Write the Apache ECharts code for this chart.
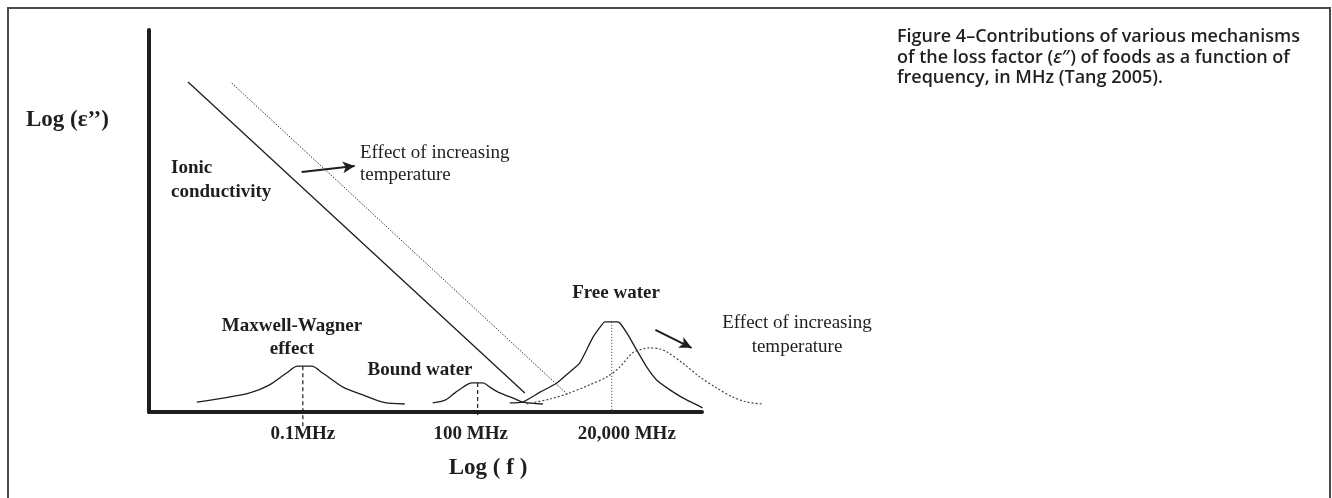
<!DOCTYPE html>
<html>
<head>
<meta charset="utf-8">
<script src="https://cdn.jsdelivr.net/npm/echarts@6/dist/echarts.min.js"></script>
<style>
  html, body { margin: 0; padding: 0; background: #fff; }
  #chart { width: 1332px; height: 498px; }
</style>
</head>
<body>
<div id="chart"></div>
<script>
// x = log10(f / MHz), y = log(e'') in arbitrary units (schematic figure)
var peakX = [-1, 2, 4.301];            // 0.1 MHz, 100 MHz, 20,000 MHz
var tickLabels = ['0.1MHz', '100 MHz', '20,000 MHz'];
var peakTop = [1.20, 0.76, 2.36];
var dropEnd = [-0.39, -0.16, -0.08];

var ionicCold = [[-2.97, 8.64], [2.81, 0.50]];
var ionicHot = [[-2.22, 8.61], [3.55, 0.45]];

var maxwellWagner = [[-2.82, 0.26], [-2.34, 0.37], [-1.91, 0.50], [-1.57, 0.71], [-1.28, 1.02],
  [-1.09, 1.20], [-0.85, 1.20], [-0.66, 1.02], [-0.31, 0.65], [0.03, 0.45], [0.37, 0.26], [0.75, 0.21]];

var boundWater = [[1.23, 0.24], [1.44, 0.31], [1.61, 0.50], [1.81, 0.71], [1.90, 0.76], [2.09, 0.76],
  [2.21, 0.65], [2.38, 0.50], [2.60, 0.37], [2.77, 0.26], [3.12, 0.21]];

var freeWater = [[2.55, 0.24], [2.77, 0.26], [3.07, 0.52], [3.36, 0.76], [3.58, 1.05], [3.75, 1.28],
  [3.98, 1.96], [4.13, 2.28], [4.18, 2.36], [4.39, 2.36], [4.44, 2.33], [4.58, 2.02], [4.73, 1.62],
  [4.90, 1.18], [5.07, 0.84], [5.30, 0.58], [5.52, 0.37], [5.69, 0.24], [5.86, 0.11]];

var freeWaterHot = [[2.84, 0.21], [3.24, 0.34], [3.58, 0.50], [3.92, 0.71], [4.22, 0.92], [4.44, 1.18],
  [4.66, 1.55], [4.83, 1.65], [4.95, 1.68], [5.13, 1.65], [5.25, 1.57], [5.52, 1.28], [5.81, 0.92],
  [6.10, 0.63], [6.38, 0.39], [6.62, 0.26], [6.89, 0.21]];

var arrowIonic = [[-1.02, 6.28], [-0.11, 6.44]];
var arrowWater = [[5.05, 2.15], [5.67, 1.68]];

var chart = echarts.init(document.getElementById('chart'));

var serif = '"Liberation Serif", "Times New Roman", serif';
var ink = '#1e1e1e';

// grid 0 carries the drawn axes, grid 1 the curves (same scale, wider so
// the warm free-water curve can run past the end of the axis)
var X_MIN = -3.64, X_AXIS_END = 5.85, X_PLOT_END = 7.2;
var pxPerUnit = 553 / (X_AXIS_END - X_MIN);

function curve(name, data, opt) {
  return Object.assign({
    name: name,
    type: 'line',
    xAxisIndex: 1,
    yAxisIndex: 1,
    data: data,
    symbol: 'none',
    clip: false,
    silent: true,
    lineStyle: { color: ink, width: 1.3 }
  }, opt || {});
}

var series = [
  curve('ionic', ionicCold),
  curve('ionicHot', ionicHot, { lineStyle: { color: '#333', width: 1, type: [1.5, 1.5] } }),
  curve('mw', maxwellWagner, { smooth: 0.3 }),
  curve('bound', boundWater, { smooth: 0.3 }),
  curve('free', freeWater, { smooth: 0.2 }),
  curve('freeHot', freeWaterHot, { smooth: 0.3, lineStyle: { color: '#444', width: 1.2, type: [2, 2] } })
];

// vertical markers from each peak down through the axis
peakX.forEach(function (x, i) {
  series.push(curve('drop' + i, [[x, peakTop[i]], [x, dropEnd[i]]], {
    lineStyle: i < 2 ? { color: ink, width: 1.2, type: [4, 3] } : { color: '#333', width: 1, type: [1, 2] }
  }));
});

// temperature arrows
series.push({
  type: 'line', data: [], silent: true, xAxisIndex: 1, yAxisIndex: 1,
  markLine: {
    silent: true,
    symbol: ['none', 'arrow'],
    symbolSize: [9, 12],
    label: { show: false },
    lineStyle: { color: ink, width: 2, type: 'solid' },
    data: [
      [{ coord: arrowIonic[0] }, { coord: arrowIonic[1] }],
      [{ coord: arrowWater[0] }, { coord: arrowWater[1] }]
    ]
  }
});

function label(text, x, y, size, weight, align, lh) {
  return {
    type: 'text', silent: true,
    style: {
      text: text, x: x, y: y,
      font: (weight || 'normal') + ' ' + size + 'px ' + serif,
      fill: ink, align: align || 'left', verticalAlign: 'middle',
      lineHeight: lh || size
    }
  };
}

var tickRich = { fontFamily: serif, fontWeight: 'bold', fontSize: 19, color: ink };

chart.setOption({
  animation: false,
  backgroundColor: '#fff',
  grid: [
    { left: 149, top: 30, width: 553, height: 382, outerBoundsMode: 'none' },
    { left: 149, top: 30, width: pxPerUnit * (X_PLOT_END - X_MIN), height: 382, outerBoundsMode: 'none' }
  ],
  xAxis: [{
    type: 'value', min: X_MIN, max: X_AXIS_END,
    splitLine: { show: false },
    axisTick: { show: false },
    axisLine: { lineStyle: { color: ink, width: 4 } },
    axisLabel: {
      customValues: peakX,
      margin: 13,
      formatter: function (v) {
        var i = peakX.indexOf(v);
        return '{t' + i + '|' + tickLabels[i] + '}';
      },
      rich: {
        t0: tickRich,
        t1: Object.assign({ padding: [0, 14, 0, 0] }, tickRich),
        t2: Object.assign({ padding: [0, 0, 0, 30] }, tickRich)
      }
    }
  }, {
    type: 'value', gridIndex: 1, min: X_MIN, max: X_PLOT_END, show: false
  }],
  yAxis: [{
    type: 'value', min: 0, max: 10,
    splitLine: { show: false },
    axisTick: { show: false },
    axisLabel: { show: false },
    axisLine: { onZero: false, lineStyle: { color: ink, width: 4 } }
  }, {
    type: 'value', gridIndex: 1, min: 0, max: 10, show: false
  }],
  series: series,
  graphic: [
    { type: 'rect', silent: true, shape: { x: 8, y: 8, width: 1322, height: 520 },
      style: { fill: 'none', stroke: '#4a4a4a', lineWidth: 2 } },
    label('Log (ε’’)', 26, 120, 23, 'bold'),
    label('Ionic\nconductivity', 171, 180, 19, 'bold', 'left', 24),
    label('Effect of increasing\ntemperature', 360, 164, 19, 'normal', 'left', 22),
    label('Maxwell-Wagner\neffect', 292, 338, 19, 'bold', 'center', 23),
    label('Bound water', 420, 370, 19, 'bold', 'center'),
    label('Free water', 616, 293, 19, 'bold', 'center'),
    label('Effect of increasing\ntemperature', 797, 335, 19, 'normal', 'center', 24),
    label('Log ( f )', 488, 468, 23, 'bold', 'center'),
    {
      type: 'text', silent: true,
      style: {
        text: 'Figure 4–Contributions of various mechanisms\nof the loss factor ({i|ε}″) of foods as a function of\nfrequency, in MHz (Tang 2005).',
        x: 897, y: 27,
        font: '600 18px "Open Sans", "Noto Sans", sans-serif',
        fill: '#231f20', align: 'left', verticalAlign: 'top', lineHeight: 20.5,
        rich: { i: { font: 'italic 600 18px "Open Sans", sans-serif', fill: '#231f20', lineHeight: 20.5 } }
      }
    }
  ]
});
</script>
</body>
</html>
